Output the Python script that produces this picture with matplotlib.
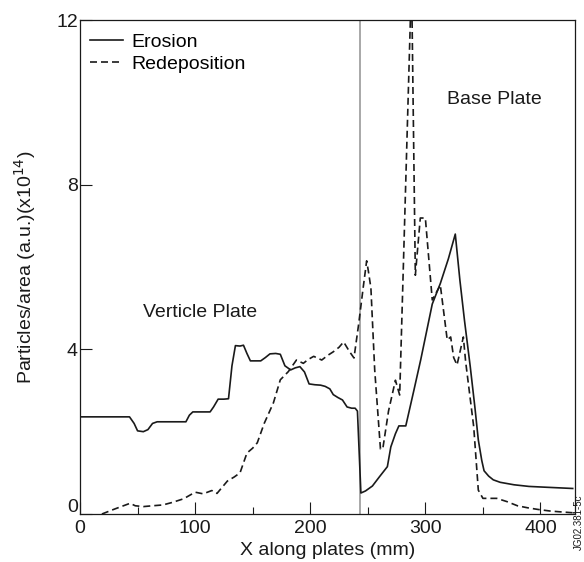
import matplotlib

matplotlib.use("Agg")
import matplotlib.pyplot as plt
from matplotlib.transforms import ScaledTranslation

plt.rcParams["font.family"] = ["Liberation Sans", "DejaVu Sans"]

# erosion (solid), x in mm, y in 1e14 particles/area
ero_x = [0, 43, 47, 50, 55, 59, 63, 67, 92, 95, 98, 113, 116, 120, 125, 129,
         132, 135, 139, 142, 145, 148, 152, 157, 161, 165, 170, 174, 178, 183,
         187, 191, 195, 199, 204, 209, 213, 217, 220, 224, 228, 232, 236, 239,
         241, 244, 248, 254, 260, 267, 270, 274, 277, 283, 290, 296, 306, 313,
         320, 326, 330, 334, 339, 343, 346, 349, 351, 355, 359, 365, 377, 390,
         405, 428]
ero_y = [2.36, 2.36, 2.2, 2.02, 2.0, 2.05, 2.2, 2.24, 2.24, 2.4, 2.48, 2.48,
         2.6, 2.79, 2.79, 2.8, 3.6, 4.09, 4.08, 4.1, 3.9, 3.72, 3.72, 3.72, 3.8,
         3.89, 3.9, 3.88, 3.6, 3.5, 3.55, 3.58, 3.45, 3.16, 3.14, 3.13, 3.1,
         3.04, 2.9, 2.83, 2.77, 2.6, 2.57, 2.57, 2.5, 0.51, 0.56, 0.68, 0.9,
         1.15, 1.63, 1.95, 2.14, 2.14, 3.0, 3.75, 5.1, 5.6, 6.2, 6.8, 5.68,
         4.7, 3.58, 2.6, 1.8, 1.3, 1.05, 0.92, 0.83, 0.77, 0.71, 0.67, 0.65,
         0.62]

# redeposition (dashed)
red_x = [19, 30, 43.5, 48, 55, 63, 72, 80, 90, 100, 107, 114.5, 119, 128, 134,
         139, 145, 150, 154, 160, 168, 174, 181, 188, 194, 198, 203, 210, 215,
         220, 225, 229, 234, 238, 242, 246, 249, 250.5, 252.7, 256, 261, 263,
         268, 274, 277.7, 288, 291.3, 295.6, 300, 306, 313, 319, 322, 324.6,
         327.5, 333, 335, 342, 346, 350, 362, 371, 380, 389, 398, 409, 428]
red_y = [0, 0.12, 0.26, 0.2, 0.18, 0.2, 0.22, 0.28, 0.37, 0.53, 0.49, 0.57,
         0.5, 0.8, 0.9, 1.0, 1.48, 1.6, 1.73, 2.2, 2.7, 3.26, 3.46, 3.74, 3.66,
         3.75, 3.83, 3.74, 3.85, 3.94, 4.05, 4.18, 3.95, 3.79, 4.6, 5.5, 6.15,
         5.9, 5.49, 3.5, 1.58, 1.58, 2.5, 3.25, 2.89, 13.0, 5.8, 7.19, 7.19,
         5.2, 5.56, 4.23, 4.3, 3.8, 3.62, 4.3, 3.7, 2.12, 0.58, 0.38, 0.38,
         0.3, 0.2, 0.15, 0.11, 0.07, 0.03]

plate_edge = 243

fig = plt.figure(figsize=(5.84, 5.62), dpi=100)
ax = fig.add_axes([0.137, 0.0854, 0.8476, 0.879])

ax.axvline(plate_edge, color="#9a9a9a", lw=1.2, zorder=1)
ax.plot(ero_x, ero_y, color="#1a1a1a", lw=1.2, label="Erosion")
ax.plot(red_x, red_y, color="#1a1a1a", lw=1.2, dashes=(4.2, 2.4),
        label="Redeposition")

ax.set_xlim(0, 430)
ax.set_ylim(0, 12)
ax.set_xticks([0, 100, 200, 300, 400])
ax.set_xticks([50, 150, 250, 350], minor=True)
ax.set_yticks([0, 4, 8, 12])
ax.tick_params(axis="both", which="major", direction="in", length=8.5,
               width=0.8, labelsize=14, colors="#1a1a1a", pad=1.5)
ax.tick_params(axis="x", which="major", pad=4)
ax.tick_params(axis="x", which="minor", direction="in", length=5, width=0.8,
               colors="#1a1a1a")
for s in ax.spines.values():
    s.set_color("#1a1a1a")
    s.set_linewidth(0.9)

# the y "0" sits a little above the corner, clear of the x "0"
ylab0 = ax.yaxis.get_major_ticks()[0].label1
ylab0.set_transform(ylab0.get_transform()
                    + ScaledTranslation(0, 6 / 72, fig.dpi_scale_trans))

ax.set_xlabel("X along plates (mm)", fontsize=14, color="#1a1a1a", labelpad=4)
ax.set_ylabel("Particles/area (a.u.)(x10$^{14}$)", fontsize=14,
              color="#1a1a1a", labelpad=13)

ax.text(55, 4.9, "Verticle Plate", fontsize=14, va="center", color="#1a1a1a")
ax.text(319, 10.08, "Base Plate", fontsize=14, va="center", color="#1a1a1a")

ax.legend(loc="upper left", bbox_to_anchor=(-0.008, 1.0), frameon=False,
          fontsize=14, handlelength=1.7, handletextpad=0.45, labelspacing=0.2,
          borderaxespad=0.3)

fig.text(0.992, 0.12, "JG02.381-5c", rotation=90, fontsize=7, ha="center",
         va="top", color="#1a1a1a")

fig.savefig("out.png", dpi=100)
